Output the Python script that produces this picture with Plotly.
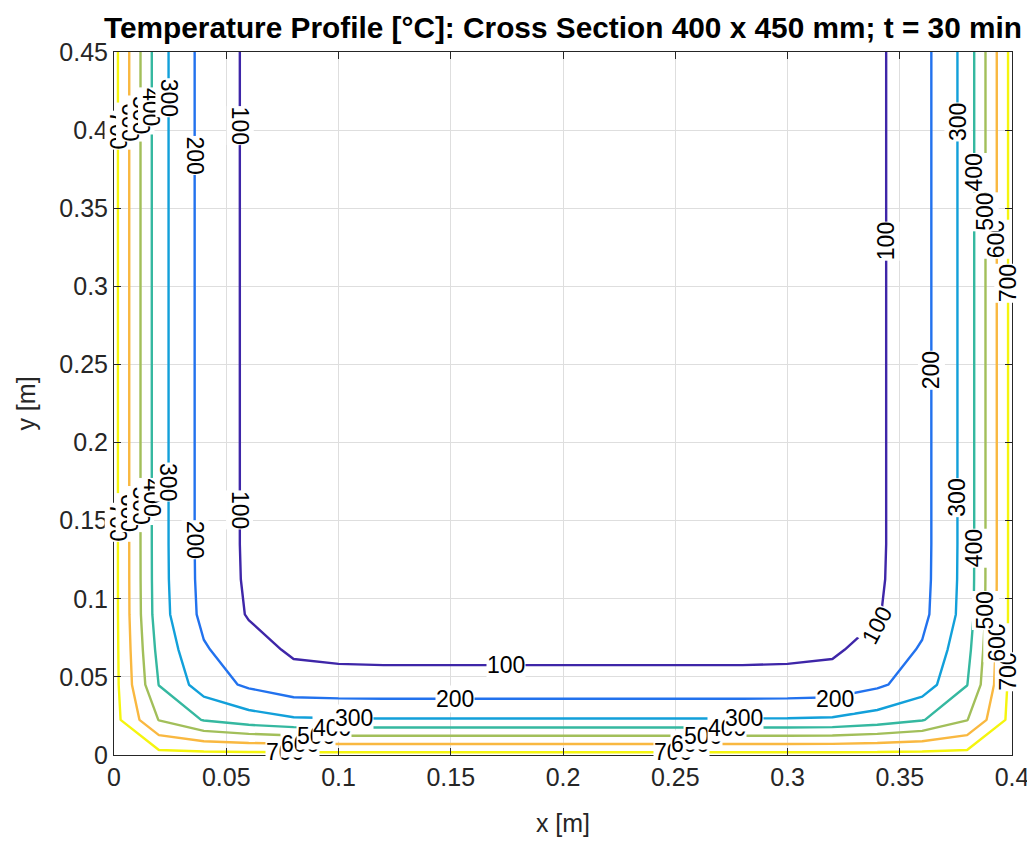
import numpy as np
import plotly.graph_objects as go

# Grid nodes (m)
x_nodes = [round(i * 0.02, 4) for i in range(21)]
y_nodes = [round(j * 0.0225, 4) for j in range(21)]

# Temperature profile along x at mid-height (heated left and right faces) [°C]
temp_profile_x = [735, 337, 165, 84, 30, 22, 20, 20, 20, 20, 20,
                  20, 20, 20, 20, 22, 30, 84, 165, 337, 735]
# Temperature profile along y at mid-width (heated bottom face, insulated top) [°C]
temp_profile_y = [733, 307, 129, 77, 30, 22, 20, 20, 20, 20, 20,
                  20, 20, 20, 20, 20, 20, 20, 20, 20, 20]

T_initial = 20.0
T_surface = 735.0

# Contour levels and parula-like line colours
levels = [100, 200, 300, 400, 500, 600, 700]
level_colors = ["#3e26a8", "#2272ee", "#12a0da", "#35b8a0", "#a2bf5a", "#f9b840", "#f5f50e"]

# Where the inline labels sit along each isotherm (position along the line)
label_left_y = {100: [0.403, 0.157], 200: [0.384, 0.138], 300: [0.421, 0.175],
                400: [0.415, 0.165], 500: [0.410, 0.160], 600: [0.405, 0.155],
                700: [0.400, 0.149]}
label_right_y = {100: [0.329], 200: [0.2465], 300: [0.4055, 0.165],
                 400: [0.373, 0.1325], 500: [0.348, 0.0928], 600: [0.330, 0.0717],
                 700: [0.302, 0.0533]}
label_bottom_x = {100: [0.1745], 200: [0.152, 0.321], 300: [0.107, 0.2804],
                  400: [0.097, 0.273], 500: [0.090, 0.2625], 600: [0.083, 0.2566],
                  700: [0.076, 0.249]}
corner_label = {"level": 100, "y": 0.083}

# Build 2D field by superposing the two 1D heating profiles
px = np.array(temp_profile_x, dtype=float)
py = np.array(temp_profile_y, dtype=float)
tx = (px - T_initial) / (T_surface - T_initial)
ty = (py - T_initial) / (T_surface - T_initial)
theta = 1.0 - np.outer(1.0 - ty, 1.0 - tx)
z = T_initial + (T_surface - T_initial) * theta

n = len(levels)
colorscale = [[i / (n - 1), c] for i, c in enumerate(level_colors)]

font_family = "Liberation Sans, Arial, Helvetica, sans-serif"
axis_color = "#262626"

fig = go.Figure(go.Contour(
    x=x_nodes, y=y_nodes, z=z,
    autocontour=False,
    contours=dict(start=levels[0], end=levels[-1], size=100, coloring="lines",
                  showlabels=False),
    line=dict(width=2.4, smoothing=0),
    colorscale=colorscale, zmin=levels[0], zmax=levels[-1], zauto=False,
    showscale=False, hoverinfo="skip",
))


def crossing(nodes, profile, level):
    """Distance along nodes where the profile (decreasing from index 0) hits level."""
    nodes = np.asarray(nodes, dtype=float)
    prof = np.asarray(profile, dtype=float)
    for k in range(len(prof) - 1):
        a, b = prof[k], prof[k + 1]
        if (a - level) * (b - level) <= 0 and a != b:
            return nodes[k] + (a - level) / (a - b) * (nodes[k + 1] - nodes[k])
    return nodes[0]


half = len(x_nodes) // 2
left_nodes = x_nodes[:half + 1]
left_prof = temp_profile_x[:half + 1]
right_nodes = x_nodes[half:][::-1]
right_prof = temp_profile_x[half:][::-1]

label_font = dict(size=23, color="black", family=font_family)
annotations = []


def add_label(x, y, text, angle):
    annotations.append(dict(x=x, y=y, xref="x", yref="y", text=text, showarrow=False,
                            textangle=angle, font=label_font, bgcolor="white",
                            borderpad=0, xanchor="center", yanchor="middle"))


for lvl in levels[::-1]:
    xl = crossing(left_nodes, left_prof, lvl)
    for yy in label_left_y[lvl]:
        add_label(xl, yy, str(lvl), 90)
    xr = crossing(right_nodes, right_prof, lvl)
    for yy in label_right_y[lvl]:
        add_label(xr, yy, str(lvl), -90)
    yb = crossing(y_nodes, temp_profile_y, lvl)
    for xx in label_bottom_x[lvl]:
        add_label(xx, yb, str(lvl), 0)

xc = crossing(right_nodes, right_prof, corner_label["level"])
add_label(xc - 0.004, corner_label["y"], str(corner_label["level"]), -62)

axis_common = dict(
    showgrid=True, gridcolor="#dedede", gridwidth=1,
    ticks="inside", ticklen=7, tickcolor=axis_color, tickwidth=1,
    showline=True, linecolor=axis_color, linewidth=1, mirror="ticks",
    zeroline=False, automargin=False,
    tickfont=dict(size=25, color=axis_color, family=font_family),
)

# The page adds an 8 px body margin, so the margins are offset to compensate
fig.update_layout(
    width=1035, height=845,
    margin=dict(l=106, r=31, t=44, b=98),
    paper_bgcolor="white", plot_bgcolor="white",
    font=dict(family=font_family, color=axis_color),
    title=dict(text="<b>Temperature Profile [°C]: Cross Section 400 x 450 mm; t = 30 min</b>",
               x=0.5, xref="paper", xanchor="center",
               y=1 - 20 / 845, yref="container", yanchor="middle",
               font=dict(size=29.8, color="black", family=font_family)),
    xaxis=dict(range=[0, 0.4], tick0=0, dtick=0.05,
               title=dict(text="x [m]", font=dict(size=25, color=axis_color), standoff=24),
               **axis_common),
    yaxis=dict(range=[0, 0.45], tick0=0, dtick=0.05,
               title=dict(text="y [m]", font=dict(size=25, color=axis_color), standoff=16),
               **axis_common),
    annotations=annotations,
)

fig.write_html("out.html")
